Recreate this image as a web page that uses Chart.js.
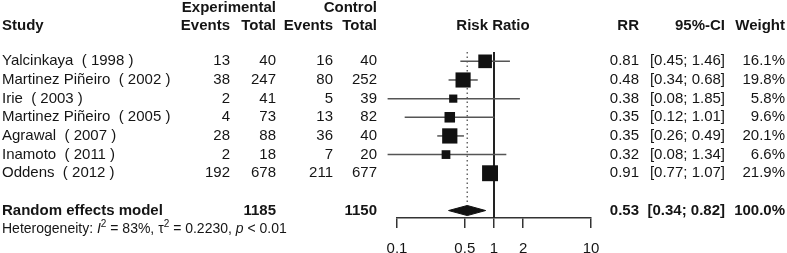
<!DOCTYPE html>
<html>
<head>
<meta charset="utf-8">
<script src="https://cdn.jsdelivr.net/npm/chart.js@4"></script>
<style>
  body { margin: 0; background: #fff; }
</style>
</head>
<body>
<canvas id="forest" width="787" height="253"></canvas>
<script>
// study rows
var studies = ["Yalcinkaya  ( 1998 )", "Martinez Piñeiro  ( 2002 )", "Irie  ( 2003 )", "Martinez Piñeiro  ( 2005 )", "Agrawal  ( 2007 )", "Inamoto  ( 2011 )", "Oddens  ( 2012 )"];
var expEvents = [13, 38, 2, 4, 28, 2, 192];
var expTotal = [40, 247, 41, 73, 88, 18, 678];
var ctrlEvents = [16, 80, 5, 13, 36, 7, 211];
var ctrlTotal = [40, 252, 39, 82, 40, 20, 677];
var rr = [0.81, 0.48, 0.38, 0.35, 0.35, 0.32, 0.91];
var ciLow = [0.45, 0.34, 0.08, 0.12, 0.26, 0.08, 0.77];
var ciHigh = [1.46, 0.68, 1.85, 1.01, 0.49, 1.34, 1.07];
var weight = [16.1, 19.8, 5.8, 9.6, 20.1, 6.6, 21.9];

// pooled estimate
var pooled = [0.53, 0.34, 0.82];
var pooledTotals = [1185, 1150];
var summaryRow = 8;

var tickValues = [0.1, 0.5, 1, 2, 10];

var FONT = '"Liberation Sans", Arial, sans-serif';
var TEXT = '#151515';

var ciSets = studies.map(function(s, i) {
	return {
		data: [{x: ciLow[i], y: i}, {x: ciHigh[i], y: i}],
		showLine: true,
		borderColor: '#555',
		borderWidth: 1.5,
		pointRadius: 0,
		clip: false,
		order: 2
	};
});

var datasets = [{
	// weighted squares
	data: rr.map(function(v, i) { return {x: v, y: i}; }),
	pointStyle: 'rect',
	pointRadius: weight.map(function(w) { return 3.4 * Math.sqrt(w) / Math.SQRT2; }),
	backgroundColor: '#111',
	borderColor: '#111',
	borderWidth: 0,
	order: 0
}, {
	// line of no effect
	data: [{x: 1, y: -0.5}, {x: 1, y: 8.4}],
	showLine: true,
	borderColor: '#222',
	borderWidth: 2,
	pointRadius: 0,
	order: 3
}, {
	// pooled estimate, dotted
	data: [{x: pooled[0], y: -0.5}, {x: pooled[0], y: summaryRow - 0.27}],
	showLine: true,
	borderColor: '#666',
	borderWidth: 1.5,
	borderDash: [1.5, 3],
	pointRadius: 0,
	order: 3
}, {
	// diamond
	data: [
		{x: pooled[1], y: summaryRow},
		{x: pooled[0], y: summaryRow - 0.27},
		{x: pooled[2], y: summaryRow},
		{x: pooled[0], y: summaryRow + 0.27},
		{x: pooled[1], y: summaryRow}
	],
	showLine: true,
	fill: 'shape',
	backgroundColor: '#111',
	borderColor: '#111',
	borderWidth: 1,
	pointRadius: 0,
	order: 0
}].concat(ciSets);

var textPlugin = {
	id: 'forestText',
	afterDraw: function(chart) {
		var ctx = chart.ctx;
		var ys = chart.scales.y;
		var bold = 'bold 15px ' + FONT;
		var reg = '15px ' + FONT;

		function txt(s, x, y, align, font) {
			ctx.font = font;
			ctx.textAlign = align;
			ctx.fillText(s, x, y);
		}

		ctx.save();
		ctx.fillStyle = TEXT;
		ctx.textBaseline = 'middle';

		// headers
		txt('Experimental', 276, 8, 'right', bold);
		txt('Control', 377, 8, 'right', bold);
		txt('Study', 2, 26, 'left', bold);
		txt('Events', 230, 26, 'right', bold);
		txt('Total', 276, 26, 'right', bold);
		txt('Events', 333, 26, 'right', bold);
		txt('Total', 377, 26, 'right', bold);
		txt('Risk Ratio', 493, 26, 'center', bold);
		txt('RR', 639, 26, 'right', bold);
		txt('95%-CI', 725, 26, 'right', bold);
		txt('Weight', 785, 26, 'right', bold);

		studies.forEach(function(s, i) {
			var y = ys.getPixelForValue(i);
			txt(s, 2, y, 'left', reg);
			txt(String(expEvents[i]), 230, y, 'right', reg);
			txt(String(expTotal[i]), 276, y, 'right', reg);
			txt(String(ctrlEvents[i]), 333, y, 'right', reg);
			txt(String(ctrlTotal[i]), 377, y, 'right', reg);
			txt(rr[i].toFixed(2), 639, y, 'right', reg);
			txt('[' + ciLow[i].toFixed(2) + '; ' + ciHigh[i].toFixed(2) + ']', 725, y, 'right', reg);
			txt(weight[i].toFixed(1) + '%', 785, y, 'right', reg);
		});

		var sy = ys.getPixelForValue(summaryRow);
		txt('Random effects model', 2, sy, 'left', bold);
		txt(String(pooledTotals[0]), 276, sy, 'right', bold);
		txt(String(pooledTotals[1]), 377, sy, 'right', bold);
		txt(pooled[0].toFixed(2), 639, sy, 'right', bold);
		txt('[' + pooled[1].toFixed(2) + '; ' + pooled[2].toFixed(2) + ']', 725, sy, 'right', bold);
		txt('100.0%', 785, sy, 'right', bold);

		// heterogeneity line with italics and superscripts
		var parts = [
			['Heterogeneity: ', '14px ' + FONT, 0],
			['I', 'italic 14px ' + FONT, 0],
			['2', '10px ' + FONT, -5],
			[' = 83%, ', '14px ' + FONT, 0],
			['τ', '14px ' + FONT, 0],
			['2', '10px ' + FONT, -5],
			[' = 0.2230, ', '14px ' + FONT, 0],
			['p', 'italic 14px ' + FONT, 0],
			[' < 0.01', '14px ' + FONT, 0]
		];
		var hx = 2, hy = 229;
		ctx.textAlign = 'left';
		parts.forEach(function(p) {
			ctx.font = p[1];
			ctx.fillText(p[0], hx, hy + p[2]);
			hx += ctx.measureText(p[0]).width;
		});
		ctx.restore();
	}
};

new Chart(document.getElementById('forest'), {
	type: 'scatter',
	data: { datasets: datasets },
	options: {
		responsive: false,
		animation: false,
		layout: {
			padding: { left: 397, right: 196, top: 52, bottom: 0 }
		},
		plugins: {
			legend: { display: false },
			tooltip: { enabled: false }
		},
		scales: {
			x: {
				type: 'logarithmic',
				min: 0.1,
				max: 10,
				afterBuildTicks: function(scale) {
					scale.ticks = tickValues.map(function(v) { return {value: v}; });
				},
				afterFit: function(scale) { scale.height = 35; },
				ticks: {
					color: TEXT,
					font: { family: FONT, size: 15 },
					padding: 12,
					maxRotation: 0,
					callback: function(v) { return String(v); }
				},
				grid: {
					drawOnChartArea: false,
					drawTicks: true,
					tickLength: 10,
					color: '#333',
					lineWidth: 1.5
				},
				border: { display: true, color: '#333', width: 1.5 }
			},
			y: {
				display: false,
				reverse: true,
				min: -0.5,
				max: 8.4
			}
		}
	},
	plugins: [textPlugin]
});
</script>
</body>
</html>
